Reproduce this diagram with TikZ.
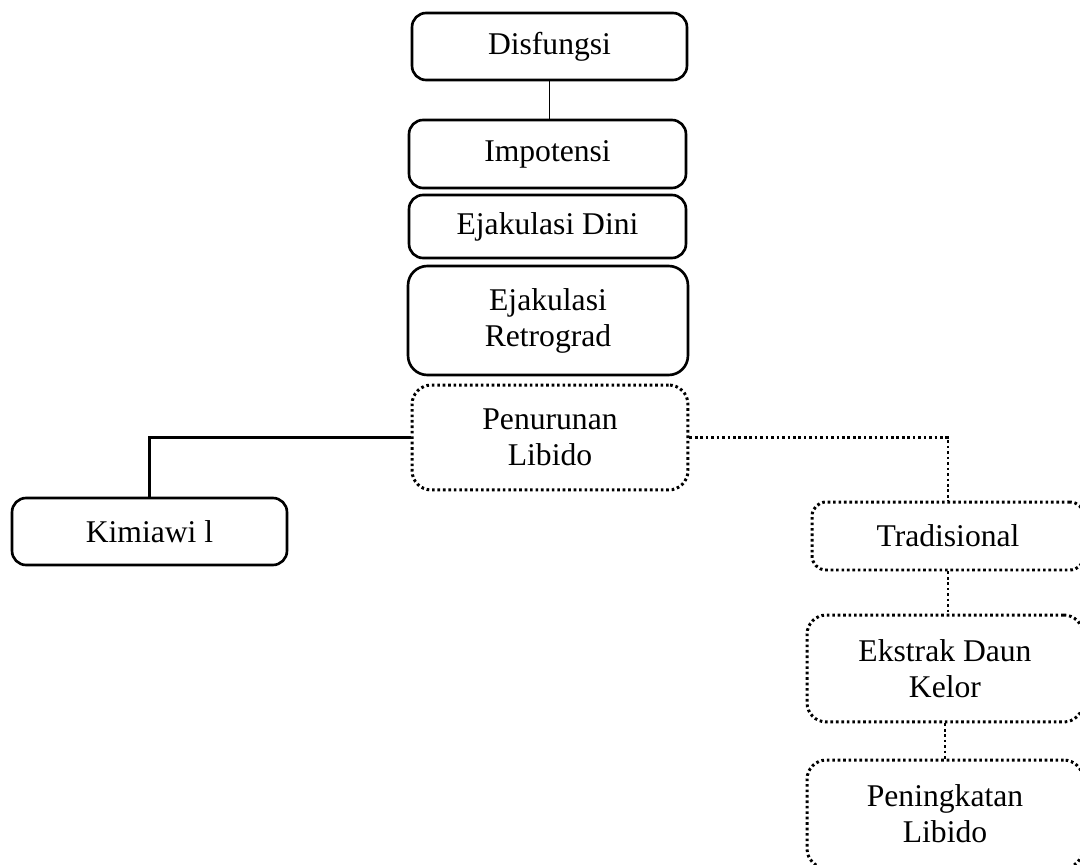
\documentclass[tikz,border=0pt]{standalone}
\usepackage{fontspec}
\setmainfont{Liberation Serif}
\usepackage{tikz}

\begin{document}
\begin{tikzpicture}[x=0.02cm, y=-0.02cm,
  kotak/.style={draw, line width=1.5pt, rounded corners=8pt, align=center, inner sep=0pt, font=\fontsize{18}{20.5}\selectfont},
  titik/.style={kotak, line width=1.7pt, dash pattern=on 1.5pt off 1.6pt},
  garis/.style={draw, line width=1.5pt},
  garistitik/.style={garis, line width=1.7pt, dash pattern=on 1.5pt off 1.6pt}]
\useasboundingbox (0,0) rectangle (1080,865);
\node[kotak, minimum width=5.5cm, minimum height=1.34cm] (disf) at (549.5,46.5) {Disfungsi};
\node[kotak, minimum width=5.54cm, minimum height=1.36cm] (impo) at (547.5,154) {Impotensi};
\node[kotak, minimum width=5.54cm, minimum height=1.26cm] (dini) at (547.5,226.5) {Ejakulasi Dini};
\node[kotak, rounded corners=11pt, minimum width=5.6cm, minimum height=2.18cm] (retro) at (548,320.5) {Ejakulasi\\Retrograd};
\node[titik, rounded corners=11pt, minimum width=5.52cm, minimum height=2.1cm] (turun) at (550,437.5) {Penurunan\\Libido};
\node[kotak, minimum width=5.5cm, minimum height=1.34cm] (kimia) at (149.5,531.5) {Kimiawi l};
\node[titik, minimum width=5.44cm, minimum height=1.36cm] (tradi) at (948,536) {Tradisional};
\node[titik, rounded corners=11pt, minimum width=5.52cm, minimum height=2.14cm] (kelor) at (945,668.5) {Ekstrak Daun\\Kelor};
\node[titik, rounded corners=11pt, minimum width=5.52cm, minimum height=2.16cm] (naik) at (945,814) {Peningkatan\\Libido};
\draw[line width=0.8pt] (disf.south) -- (disf.south |- impo.north);
\draw[garis] (turun.west) -| (kimia.north);
\draw[garistitik] (turun.east) -| (tradi.north);
\draw[garistitik] (tradi.south) -- (tradi.south |- kelor.north);
\draw[garistitik] (kelor.south) -- (kelor.south |- naik.north);
\end{tikzpicture}
\end{document}
